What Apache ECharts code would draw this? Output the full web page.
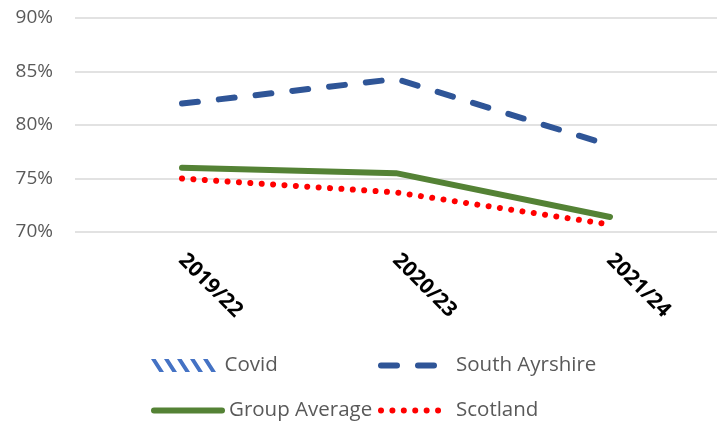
<!DOCTYPE html>
<html>
<head>
<meta charset="utf-8">
<script src="https://cdn.jsdelivr.net/npm/echarts@6/dist/echarts.min.js"></script>
<style>
  html, body { margin: 0; padding: 0; background: #fff; }
  #chart { width: 717px; height: 422px; }
</style>
</head>
<body>
<div id="chart"></div>
<script>
// data
var years = ['2019/22', '2020/23', '2021/24'];
var southAyrshire = [82.0, 84.3, 78.1];
var groupAverage = [76.0, 75.5, 71.4];
var scotland = [75.0, 73.7, 70.7];
var yTicks = { min: 70, max: 90, step: 5 };

var font = '"Open Sans", sans-serif';
var covidIcon = 'path://M0,0L5,0L14,14L9,14Z M14,0L19,0L28,14L23,14Z M28,0L33,0L42,14L37,14Z M42,0L47,0L56,14L51,14Z M56,0L61,0L70,14L65,14Z';

var dashStyle = { color: '#2f5597', width: 6, type: [16, 21], cap: 'round' };
var solidStyle = { color: '#548235', width: 6, cap: 'round' };
var dotStyle = { color: '#ff0000', width: 6, type: [0.01, 11.4], cap: 'round' };

function legendBox(name, left, top, line, icon){
  var l = {
    data: [name],
    left: left,
    top: top,
    padding: 0,
    itemWidth: 68,
    itemHeight: 13,
    textStyle: { color: '#595959', fontSize: 20.5, fontFamily: font, padding: [0, 0, 0, 2] }
  };
  if (icon) l.icon = icon;
  if (line) {
    l.lineStyle = line;
    l.itemStyle = { opacity: 0 };
  }
  return l;
}

var chart = echarts.init(document.getElementById('chart'));
var option = {
  animation: false,
  grid: { left: 75, right: 0, top: 18, bottom: 190 },
  legend: [
    legendBox('Covid', 151, 355, null, covidIcon),
    legendBox('South Ayrshire', 378, 355, dashStyle),
    legendBox('Group Average', 151, 400, solidStyle),
    legendBox('Scotland', 378, 400, dotStyle)
  ],
  xAxis: {
    type: 'category',
    data: years,
    axisLine: { show: false },
    axisTick: { show: false },
    axisLabel: {
      rotate: -45,
      margin: 25,
      color: '#000',
      fontWeight: 'bold',
      fontSize: 21,
      fontFamily: font
    }
  },
  yAxis: {
    type: 'value',
    min: yTicks.min,
    max: yTicks.max,
    interval: yTicks.step,
    axisLine: { show: false },
    axisTick: { show: false },
    splitLine: { lineStyle: { color: '#d9d9d9', width: 1.5 } },
    axisLabel: {
      formatter: '{value}%',
      margin: 22,
      color: '#595959',
      fontSize: 19,
      fontFamily: font
    }
  },
  series: [
    {
      name: 'Covid',
      type: 'bar',
      data: [],
      itemStyle: { color: '#4472c4' }
    },
    {
      name: 'South Ayrshire',
      type: 'line',
      data: southAyrshire,
      symbol: 'none',
      itemStyle: { color: '#2f5597' },
      lineStyle: dashStyle
    },
    {
      name: 'Group Average',
      type: 'line',
      data: groupAverage,
      symbol: 'none',
      itemStyle: { color: '#548235' },
      lineStyle: solidStyle
    },
    {
      name: 'Scotland',
      type: 'line',
      data: scotland,
      symbol: 'none',
      itemStyle: { color: '#ff0000' },
      lineStyle: dotStyle
    }
  ]
};
chart.setOption(option);
</script>
</body>
</html>
